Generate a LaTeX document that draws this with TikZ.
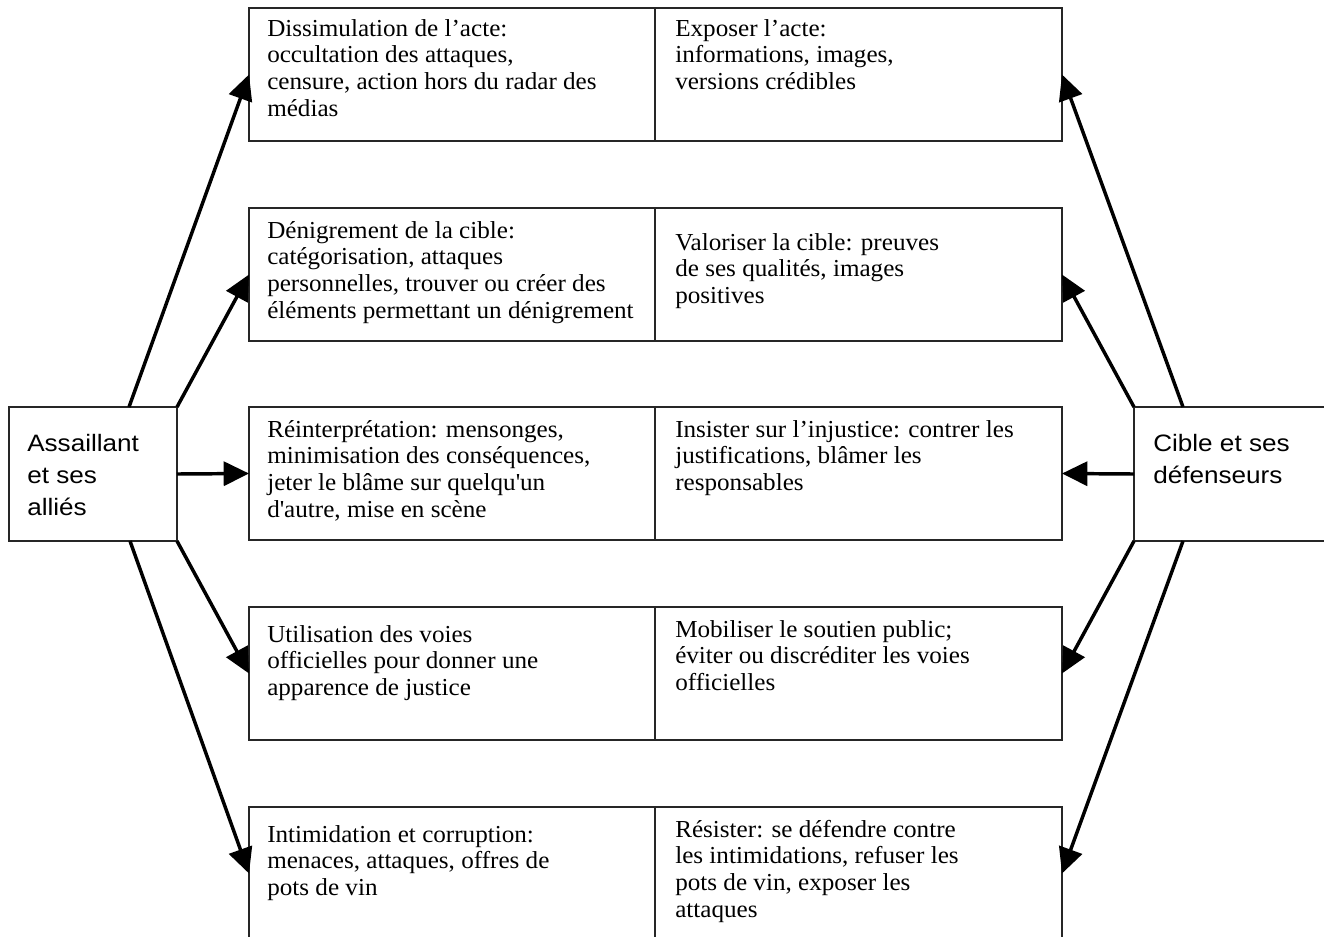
\documentclass[tikz,border=0pt]{standalone}
\usepackage{fontspec}
\newfontfamily\boxfont{Liberation Serif}[FakeStretch=1.03]
\newfontfamily\sidefont{Liberation Sans}[FakeStretch=1.1]
\usetikzlibrary{arrows.meta, calc}

\begin{document}
\begin{tikzpicture}[x=0.75pt, y=-0.75pt,
  cell/.style={draw=black!85, line width=0.9pt, minimum height=99.75pt, inner sep=0pt, outer sep=0pt},
  leftcell/.style={cell, minimum width=304.5pt},
  rightcell/.style={cell, minimum width=305.25pt},
  side/.style={draw=black!85, line width=0.9pt, minimum height=100.5pt, inner sep=0pt, outer sep=0pt},
  celltext/.style={anchor=north west, inner sep=0pt, align=left, font={\boxfont\fontsize{18.3}{20}\selectfont}},
  sidetext/.style={anchor=north west, inner sep=0pt, align=left, font={\sidefont\fontsize{17.8}{24}\selectfont}},
  push/.style={line width=2.6pt, -{Triangle[length=19pt, width=18pt]}}]
  \useasboundingbox (0,0) rectangle (1324,936);

  % Actors
  \node[side, minimum width=126pt] (assail) at (93,474) {};
  \node[side, minimum width=150pt] (cible) at (1234,474) {};
  \node[sidetext] (tassail) at ($(assail.north west)+(18,21.6)$) {\strut Assaillant\\et ses\\alliés};
  \node[sidetext] (tcible) at ($(cible.north west)+(19,21.6)$) {\strut Cible et ses\\défenseurs};

  % Tactics of the assailant (left column)
  \node[leftcell] (a1) at (452,74.5) {};
  \node[leftcell] (a2) at (452,274.5) {};
  \node[leftcell] (a3) at (452,473.5) {};
  \node[leftcell] (a4) at (452,673.5) {};
  \node[leftcell] (a5) at (452,873.5) {};

  % Counter-tactics (right column)
  \node[rightcell] (b1) at (858.5,74.5) {};
  \node[rightcell] (b2) at (858.5,274.5) {};
  \node[rightcell] (b3) at (858.5,473.5) {};
  \node[rightcell] (b4) at (858.5,673.5) {};
  \node[rightcell] (b5) at (858.5,873.5) {};

  % Texts
  \node[celltext] (ta1) at ($(a1.north west)+(18,9.3)$) {\strut Dissimulation de l’acte:\\occultation des attaques,\\censure, action hors du radar des\\médias};
  \node[celltext] (tb1) at ($(b1.north west)+(20,9.3)$) {\strut Exposer l’acte:\\informations, images,\\versions crédibles};
  \node[celltext] (ta2) at ($(a2.north west)+(18,11.3)$) {\strut Dénigrement de la cible:\\catégorisation, attaques\\personnelles, trouver ou créer des\\éléments permettant un dénigrement};
  \node[celltext] (tb2) at ($(b2.north west)+(20,23.3)$) {\strut Valoriser la cible: preuves\\de ses qualités, images\\positives};
  \node[celltext] (ta3) at ($(a3.north west)+(18,11.3)$) {\strut Réinterprétation: mensonges,\\minimisation des conséquences,\\jeter le blâme sur quelqu\textquotesingle un\\d\textquotesingle autre, mise en scène};
  \node[celltext] (tb3) at ($(b3.north west)+(20,11.3)$) {\strut Insister sur l’injustice: contrer les\\justifications, blâmer les\\responsables};
  \node[celltext] (ta4) at ($(a4.north west)+(18,16.3)$) {\strut Utilisation des voies\\officielles pour donner une\\apparence de justice};
  \node[celltext] (tb4) at ($(b4.north west)+(20,11.3)$) {\strut Mobiliser le soutien public;\\éviter ou discréditer les voies\\officielles};
  \node[celltext] (ta5) at ($(a5.north west)+(18,16.3)$) {\strut Intimidation et corruption:\\menaces, attaques, offres de\\pots de vin};
  \node[celltext] (tb5) at ($(b5.north west)+(20,11.3)$) {\strut Résister: se défendre contre\\les intimidations, refuser les\\pots de vin, exposer les\\attaques};

  % Arrows from the assailant
  \draw[push] ($(assail.north east)+(-48,0)$) -- (a1.west);
  \draw[push] (assail.north east) -- (a2.west);
  \draw[push] (assail.east) -- (a3.west);
  \draw[push] (assail.south east) -- (a4.west);
  \draw[push] ($(assail.south east)+(-47,0)$) -- (a5.west);

  % Arrows from the target
  \draw[push] ($(cible.north west)+(49,0)$) -- (b1.east);
  \draw[push] (cible.north west) -- (b2.east);
  \draw[push] (cible.west) -- (b3.east);
  \draw[push] (cible.south west) -- (b4.east);
  \draw[push] ($(cible.south west)+(49,0)$) -- (b5.east);
\end{tikzpicture}
\end{document}
